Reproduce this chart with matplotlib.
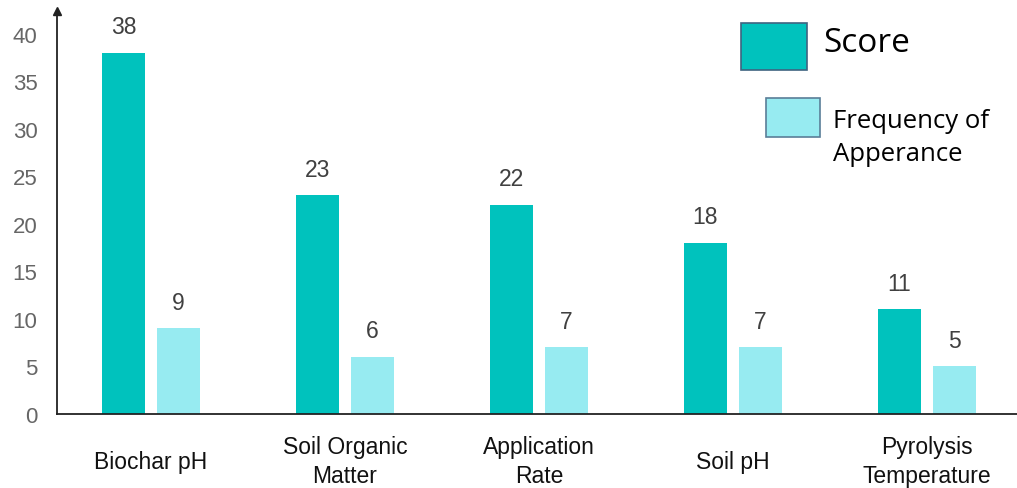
import matplotlib.pyplot as plt
from matplotlib.patches import Rectangle
import numpy as np

plt.rcParams['font.family'] = ['Liberation Sans', 'DejaVu Sans']

categories = ['Biochar pH', 'Soil Organic\nMatter', 'Application\nRate',
              'Soil pH', 'Pyrolysis\nTemperature']
score = [38, 23, 22, 18, 11]
frequency = [9, 6, 7, 7, 5]

score_color = '#00C2BD'
freq_color = '#97EBF1'

fig = plt.figure(figsize=(10.17, 4.89), dpi=100)
ax = fig.add_axes([57 / 1017, 1 - 415 / 489, 1 - 57 / 1017, (415 - 12) / 489])

x = np.arange(len(categories))
w = 0.222
off = 0.142
b1 = ax.bar(x - off, score, w, color=score_color)
b2 = ax.bar(x + off, frequency, w, color=freq_color)

for bars in (b1, b2):
    for rect in bars:
        h = rect.get_height()
        ax.annotate(f'{h:g}', (rect.get_x() + rect.get_width() / 2, h),
                    xytext=(0, 19), textcoords='offset points',
                    ha='center', va='center', fontsize=16.5, color='#404040')

ax.set_xlim(-0.485, 4.464)
ax.set_ylim(0, 42.4)
ax.set_yticks(range(0, 45, 5))
ax.set_xticks(x)
ax.set_xticklabels(categories, fontsize=16.5, color='#111111', linespacing=1.35)
for lbl in ax.get_xticklabels():
    lbl.set_va('center')
ax.tick_params(axis='x', length=0, pad=34)
ax.tick_params(axis='y', length=0, pad=14, labelsize=16, labelcolor='#666666')

for s in ('top', 'right'):
    ax.spines[s].set_visible(False)
for s in ('left', 'bottom'):
    ax.spines[s].set_linewidth(1.3)
    ax.spines[s].set_color('#222222')
# arrow head on the y axis
ax.plot(0, 1, marker='^', color='#222222', markersize=6,
        transform=ax.transAxes, clip_on=False)

# legend drawn as standalone boxes
fig.patches.append(Rectangle((741 / 1017, 1 - 71 / 489), 66 / 1017, 47 / 489,
                             transform=fig.transFigure, facecolor=score_color,
                             edgecolor='#3E6480', linewidth=1.2))
fig.patches.append(Rectangle((766 / 1017, 1 - 138 / 489), 54 / 1017, 39 / 489,
                             transform=fig.transFigure, facecolor=freq_color,
                             edgecolor='#5A7E98', linewidth=1.2))
fig.text(823 / 1017, 1 - 44 / 489, 'Score', fontsize=24, va='center',
         ha='left', color='black', family=['Open Sans', 'DejaVu Sans'])
fig.text(833 / 1017, 1 - 138 / 489, 'Frequency of\nApperance', fontsize=18.5,
         va='center', ha='left', color='black', linespacing=1.38,
         family=['Open Sans', 'DejaVu Sans'])

fig.savefig('out.png', dpi=100)
